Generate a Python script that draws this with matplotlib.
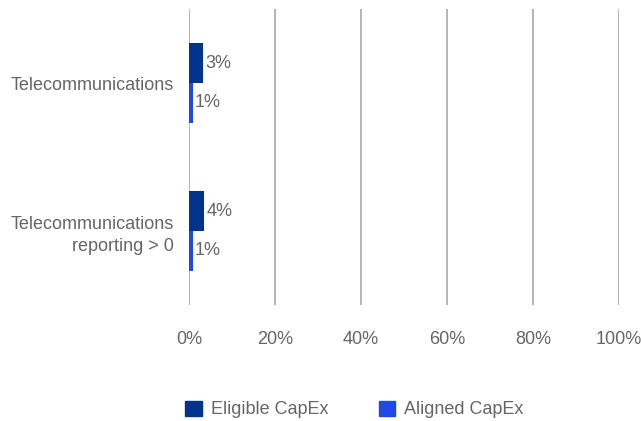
import numpy as np
import matplotlib.pyplot as plt
from matplotlib.patches import Patch

plt.rcParams['font.family'] = ['Liberation Sans', 'DejaVu Sans']

categories = ['Telecommunications', 'Telecommunications\nreporting > 0']
eligible = [3.3, 3.6]
aligned = [0.9, 0.9]
series_names = ['Eligible CapEx', 'Aligned CapEx']
colors = ['#00338D', '#1E49E2']
ticks = [0, 20, 40, 60, 80, 100]

text_col = '#666666'
grid_col = '#a0a0a0'
fs = 13

fig = plt.figure(figsize=(6.41, 4.21), dpi=100)
ax = fig.add_axes([189 / 641, 1 - 305 / 421, 430 / 641, 296 / 421])

y = np.arange(len(categories))
h = 0.27
b1 = ax.barh(y - h / 2, eligible, height=h, color=colors[0], zorder=3)
b2 = ax.barh(y + h / 2, aligned, height=h, color=colors[1], zorder=3)

for bars, vals in [(b1, eligible), (b2, aligned)]:
    for bar, v in zip(bars, vals):
        ax.text(v + 0.5, bar.get_y() + bar.get_height() / 2, '%.0f%%' % v,
                va='center', ha='left', fontsize=fs, color=text_col)

ax.set_xlim(0, 100)
ax.set_ylim(1.5, -0.5)
ax.set_xticks(ticks)
ax.set_xticklabels(['%d%%' % t for t in ticks])
ax.set_yticks(y)
ax.set_yticklabels(categories, ha='right', multialignment='right', linespacing=1.4)
ax.tick_params(axis='both', length=0, labelsize=fs, labelcolor=text_col)
ax.tick_params(axis='x', pad=19)
ax.tick_params(axis='y', pad=11)
ax.grid(axis='x', color=grid_col, linewidth=1.1, zorder=0)
for s in ax.spines.values():
    s.set_visible(False)

handles = [Patch(color=c, label=n) for c, n in zip(colors, series_names)]
fig.legend(handles=handles, loc='center', bbox_to_anchor=(0.553, 0.027), ncol=2,
           frameon=False, fontsize=fs, labelcolor=text_col, handlelength=0.9,
           handleheight=0.9, handletextpad=0.5, columnspacing=2.8)

fig.savefig('out.png', dpi=100)
